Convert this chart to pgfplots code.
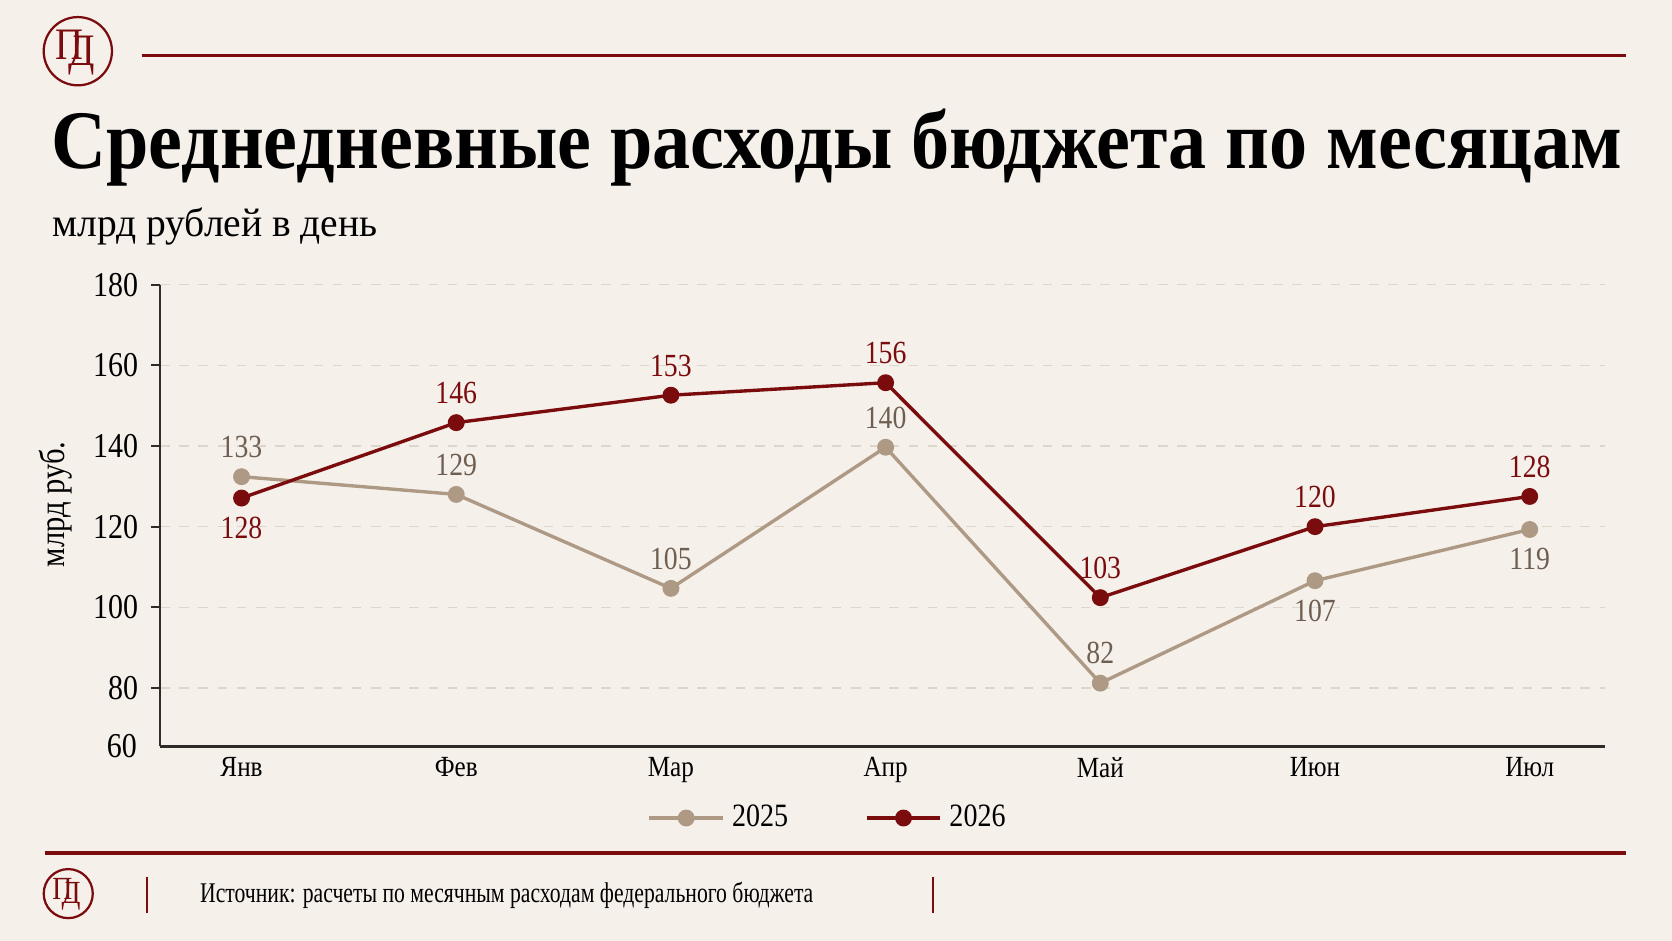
\documentclass[border=0pt]{standalone}
\usepackage{fontspec}
\setmainfont{Liberation Serif}[FakeStretch=0.86]
\usepackage{graphicx}
\usepackage{pgfplots}
\usepackage{pgfplotstable}
\pgfplotsset{compat=1.18}
\usetikzlibrary{calc}

\definecolor{bg}{HTML}{F5F0EA}
\definecolor{tanc}{HTML}{AE9A84}
\definecolor{dred}{HTML}{7A0C0E}
\definecolor{tanlab}{HTML}{6E5F52}
\definecolor{gridc}{HTML}{DDD6CD}
\definecolor{axc}{HTML}{2E2B28}

\pgfplotstableread{
x y
0 132.4
1 128.0
2 104.7
3 139.7
4 81.2
5 106.6
6 119.3
}\dataA

\pgfplotstableread{
x y
0 127.1
1 145.8
2 152.6
3 155.7
4 102.4
5 120.0
6 127.5
}\dataB

\newcommand\logo[3]{% center, radius(mm), font size
  \draw[dred, line width=0.6pt] #1 circle (#2);
  \node[text=dred, inner sep=0pt, font=\fontsize{#3}{#3}\selectfont] at ($#1+(-0.24*#2,0.2*#2)$) {П};
  \node[text=dred, inner sep=0pt, font=\fontsize{#3}{#3}\selectfont] at ($#1+(0.12*#2,-0.12*#2)$) {Д};
}

\pgfplotsset{
  lbl/.style 2 args={forget plot, draw=none, mark=none, nodes near coords,
    point meta=explicit symbolic,
    every node near coord/.append style={anchor=#1, font=\fontsize{8.6}{9}\selectfont,
      text=#2, inner xsep=0pt, inner ysep=1.7mm}},
}

\begin{document}
\begin{tikzpicture}
\useasboundingbox (0,0) rectangle (156.8mm,-88.2mm);
\fill[bg] (0,0) rectangle (156.8mm,-88.2mm);

% header
\logo{(7.3mm,-4.8mm)}{3.2mm}{12}
\draw[dred, line width=0.7pt] (13.3mm,-5.2mm) -- (152.5mm,-5.2mm);
\node[anchor=base west, inner sep=0pt] at (4.75mm,-15.76mm)
  {\resizebox{147.3mm}{\height}{\fontsize{22.2}{26}\selectfont\bfseries Среднедневные расходы бюджета по месяцам}};
\node[anchor=base west, inner sep=0pt] at (4.85mm,-22.2mm)
  {\resizebox{30.5mm}{\height}{\fontsize{10.7}{12}\selectfont млрд рублей в день}};

% y label and bottom tick label
\node[rotate=90, inner sep=0pt, font=\fontsize{9.5}{10}\selectfont] at (5.2mm,-47.3mm) {млрд руб.};
\node[anchor=east, inner sep=0pt, font=\fontsize{9.3}{10}\selectfont] at (12.9mm,-70.0mm) {60};

\begin{axis}[
  at={(15.0mm,-70.0mm)}, anchor=south west,
  scale only axis, width=135.5mm, height=43.3mm,
  xmin=-0.38, xmax=6.35, ymin=65.5, ymax=180,
  axis lines=left,
  axis line style={axc, line width=0.6pt, -},
  xtick={0,...,6},
  xticklabels={Янв,Фев,Мар,Апр,Май,Июн,Июл},
  x tick style={draw=none},
  ytick={80,100,...,180},
  y tick style={axc, line width=0.5pt},
  tick align=outside, major tick length=0.8mm,
  ymajorgrids,
  grid style={gridc, dash pattern=on 0.9mm off 0.9mm, line width=0.4pt},
  /pgf/number format/assume math mode=true,
  yticklabel style={font=\fontsize{9.3}{10}\selectfont, text=black},
  xticklabel style={font=\fontsize{7.8}{9}\selectfont, text=black, yshift=1mm},
  legend style={at={(0.464,-0.155)}, anchor=center, draw=none, fill=none,
    legend columns=2, font=\fontsize{8.7}{10}\selectfont,
    /tikz/every even column/.append style={column sep=6.5mm}},
  legend image code/.code={%
    \draw[#1, mark=none] (0mm,0mm) -- (6.9mm,0mm);
    \draw[#1, only marks] plot coordinates {(3.45mm,0mm)};},
  clip=false,
]
\addplot[tanc, line width=0.9pt, mark=*, mark size=1.8pt, mark options={fill=tanc, draw=tanc}]
  table[x=x, y=y] {\dataA};
\addlegendentry{2025}
\addplot[dred, line width=0.9pt, mark=*, mark size=1.8pt, mark options={fill=dred, draw=dred}]
  table[x=x, y=y] {\dataB};
\addlegendentry{2026}

% value labels
\addplot[lbl={south}{tanlab}] coordinates {(0,132.4)[133] (1,128.0)[129] (2,104.7)[105] (3,139.7)[140] (4,81.2)[82]};
\addplot[lbl={north}{tanlab}] coordinates {(5,106.6)[107] (6,119.3)[119]};
\addplot[lbl={north}{dred}] coordinates {(0,127.1)[128]};
\addplot[lbl={south}{dred}] coordinates {(1,145.8)[146] (2,152.6)[153] (3,155.7)[156] (4,102.4)[103] (5,120.0)[120] (6,127.5)[128]};
\end{axis}

% footer
\draw[dred, line width=0.9pt] (4.2mm,-80.0mm) -- (152.5mm,-80.0mm);
\logo{(6.4mm,-83.8mm)}{2.3mm}{8.6}
\draw[dred, line width=0.6pt] (13.8mm,-82.2mm) -- (13.8mm,-85.6mm);
\draw[dred, line width=0.6pt] (87.5mm,-82.2mm) -- (87.5mm,-85.6mm);
\node[anchor=base west, inner sep=0pt] at (18.7mm,-84.6mm)
  {\resizebox{57.5mm}{\height}{\fontsize{7.6}{9}\selectfont Источник: расчеты по месячным расходам федерального бюджета}};
\end{tikzpicture}
\end{document}
